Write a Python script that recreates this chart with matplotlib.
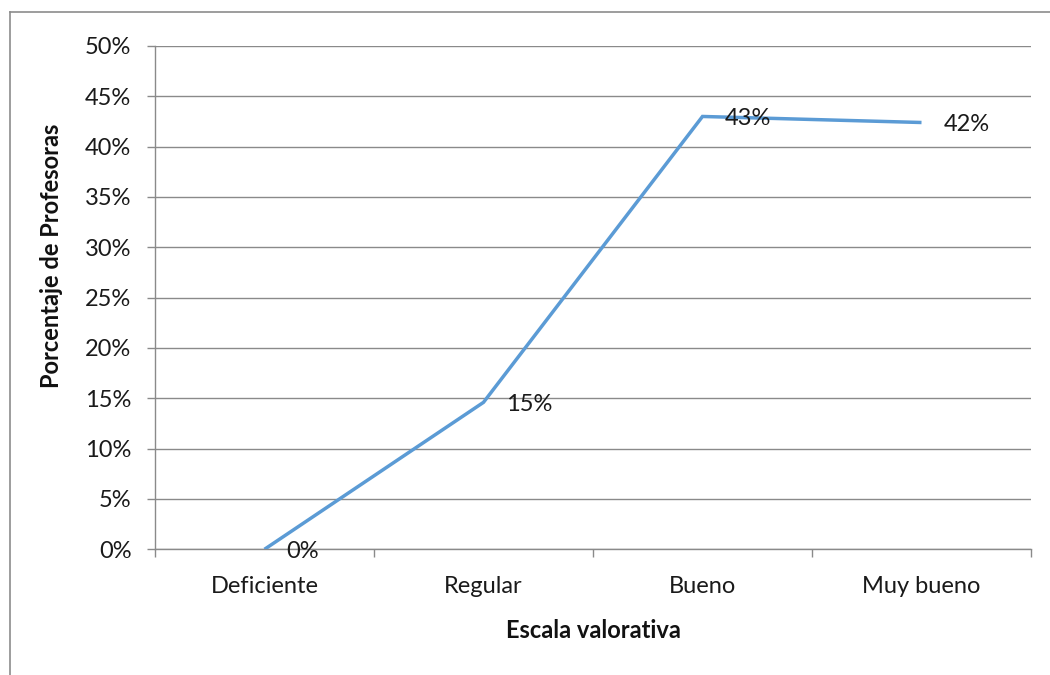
import matplotlib
matplotlib.use("Agg")
import matplotlib.pyplot as plt
from matplotlib.lines import Line2D
from matplotlib.ticker import PercentFormatter, FixedLocator

# Data
categories = ["Deficiente", "Regular", "Bueno", "Muy bueno"]
percentages = [0.0, 0.146, 0.430, 0.424]
y_ticks = [0.0, 0.05, 0.10, 0.15, 0.20, 0.25, 0.30, 0.35, 0.40, 0.45, 0.50]

x_title = "Escala valorativa"
y_title = "Porcentaje de Profesoras"

plt.rcParams["font.family"] = ["Lato", "DejaVu Sans"]

W, H = 1050, 675
fig = plt.figure(figsize=(W / 100, H / 100), dpi=100)
fig.patch.set_facecolor("white")

# Outer chart frame (left and top edges visible)
grey_frame = "#8c8c8c"
fig.add_artist(Line2D([10 / W, 10 / W], [0, 1 - 12 / H], transform=fig.transFigure,
                      color=grey_frame, lw=1.2))
fig.add_artist(Line2D([10 / W, 1], [1 - 12 / H, 1 - 12 / H], transform=fig.transFigure,
                      color=grey_frame, lw=1.2))

left, right, top, bottom = 155, 1031, 46, 549.3
ax = fig.add_axes([left / W, 1 - bottom / H, (right - left) / W, (bottom - top) / H])

grid_col = "#8a8a8a"
txt_col = "#1a1a1a"
fs = 17
xs = list(range(len(categories)))
ax.plot(xs, percentages, color="#5B9BD5", lw=2.5, solid_capstyle="butt",
        solid_joinstyle="miter", zorder=3)

for x, v in zip(xs, percentages):
    ax.annotate(f"{v:.0%}", (x, v), xytext=(16, -1.5), textcoords="offset points",
                ha="left", va="center", fontsize=fs, color=txt_col, zorder=4)

ax.set_xlim(-0.5, len(categories) - 0.5)
ax.set_ylim(0, 0.5)

ax.yaxis.set_major_locator(FixedLocator(y_ticks))
ax.yaxis.set_major_formatter(PercentFormatter(1.0, decimals=0))
ax.grid(axis="y", color=grid_col, lw=1.0, zorder=1)
ax.set_axisbelow(True)

ax.set_xticks(xs)
ax.set_xticklabels(categories)
ax.set_xticks([i - 0.5 for i in range(len(categories) + 1)], minor=True)

for s in ["top", "right"]:
    ax.spines[s].set_visible(False)
for s in ["left", "bottom"]:
    ax.spines[s].set_color(grid_col)
    ax.spines[s].set_linewidth(1.0)

ax.tick_params(axis="y", which="major", length=6, width=1.0, color=grid_col,
               labelsize=fs, labelcolor=txt_col, pad=11)
ax.tick_params(axis="x", which="major", length=0, labelsize=fs,
               labelcolor=txt_col, pad=19)
ax.tick_params(axis="x", which="minor", length=6, width=1.0, color=grid_col)

ax.set_xlabel(x_title, fontsize=fs, fontweight="bold", color="#111111", labelpad=16)
ax.set_ylabel(y_title, fontsize=fs, fontweight="bold", color="#111111")
ax.yaxis.set_label_coords(-0.105, 0.583)

fig.savefig("out.png", dpi=100, facecolor="white")
